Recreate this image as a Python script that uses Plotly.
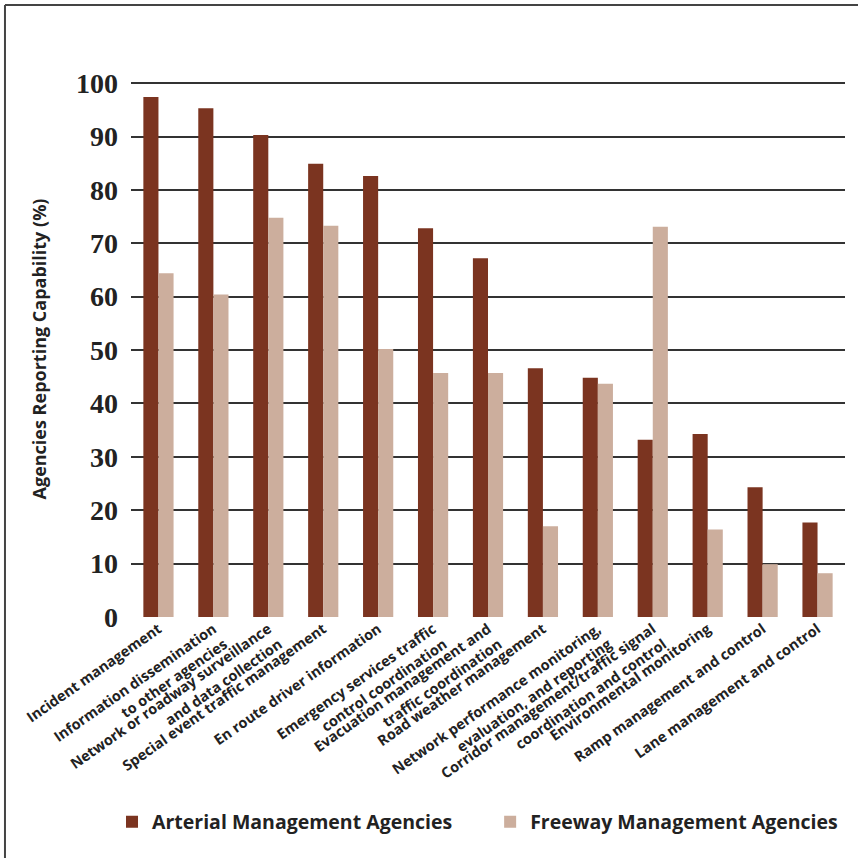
import plotly.graph_objects as go

categories = [
    "Incident management",
    "Information dissemination<br>to other agencies",
    "Network or roadway surveillance<br>and data collection",
    "Special event traffic management",
    "En route driver information",
    "Emergency services traffic<br>control coordination",
    "Evacuation management and<br>traffic coordination",
    "Road weather management",
    "Network performance monitoring,<br>evaluation, and reporting",
    "Corridor management/traffic signal<br>coordination and control",
    "Environmental monitoring",
    "Ramp management and control",
    "Lane management and control",
]
arterial = [97.4, 95.3, 90.3, 84.9, 82.6, 72.8, 67.2, 46.6, 44.8, 33.2, 34.3, 24.3, 17.7]
freeway = [64.4, 60.4, 74.8, 73.3, 50.2, 45.7, 45.7, 17.0, 43.7, 73.1, 16.4, 9.9, 8.2]
y_ticks = [0, 10, 20, 30, 40, 50, 60, 70, 80, 90, 100]

ART_COLOR = "#7B3420"
FWY_COLOR = "#CCAE9D"
TEXT = "#222222"

fig = go.Figure()
fig.add_trace(go.Bar(x=categories, y=arterial, name="Arterial Management Agencies",
                     marker=dict(color=ART_COLOR, line=dict(width=0)), legend="legend"))
fig.add_trace(go.Bar(x=categories, y=freeway, name="Freeway Management Agencies",
                     marker=dict(color=FWY_COLOR, line=dict(width=0)), legend="legend2"))

legend_font = dict(family="Open Sans", size=19.5, color=TEXT, weight="bold")

fig.update_layout(
    width=858, height=858,
    margin=dict(l=131, r=13, t=81, b=241),
    paper_bgcolor="white", plot_bgcolor="white",
    barmode="group", bargap=0.45, bargroupgap=0,
    showlegend=True,
    legend=dict(orientation="h", x=-0.0266, y=-0.3825, xanchor="left", yanchor="middle",
                font=legend_font, bgcolor="rgba(0,0,0,0)"),
    legend2=dict(orientation="h", x=0.503, y=-0.3825, xanchor="left", yanchor="middle",
                 font=legend_font, bgcolor="rgba(0,0,0,0)"),
    xaxis=dict(
        type="category", tickangle=-35, showgrid=False, showline=False, ticks="",
        tickfont=dict(family="Open Sans", size=14.5, color=TEXT, weight="bold"),
    ),
    yaxis=dict(
        range=[0, 100.4], tickvals=y_ticks, ticktext=[str(v) for v in y_ticks],
        showgrid=True, gridcolor="#333333", gridwidth=2,
        zeroline=True, zerolinecolor="rgba(0,0,0,0)", zerolinewidth=1,
        showline=False, ticks="", ticklabelstandoff=12,
        tickfont=dict(family="Liberation Serif", size=28, color=TEXT, weight="bold"),
        title=dict(text="Agencies Reporting Capability (%)", standoff=24,
                   font=dict(family="Open Sans", size=18, color=TEXT, weight="bold")),
    ),
    shapes=[
        dict(type="line", xref="paper", yref="paper", x0=-0.1765, x1=-0.1765, y0=-0.5, y1=1.1418,
             line=dict(color="#444444", width=2)),
        dict(type="line", xref="paper", yref="paper", x0=-0.1765, x1=1.1, y0=1.1418, y1=1.1418,
             line=dict(color="#444444", width=2)),
    ],
)

fig.write_html("out.html")
